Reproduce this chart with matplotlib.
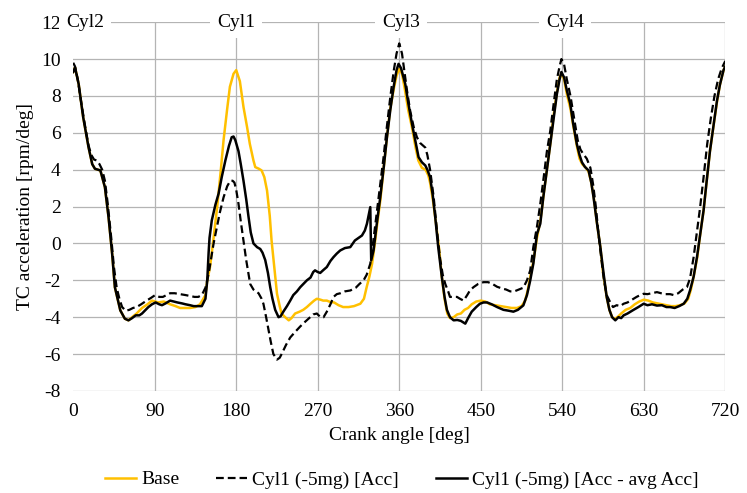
import numpy as np
import matplotlib.pyplot as plt

# Values (crank angle [deg], acceleration [rpm/deg])
base_deg = [0, 2, 6, 11, 17, 21, 24, 30, 35, 39, 43, 46, 52, 57, 61, 65, 70, 76, 82, 87,
            94, 100, 107, 113, 118, 124, 129, 135, 140, 146, 148, 151, 155, 159, 163, 166,
            170, 173, 177, 180, 184, 188, 192, 195, 199, 201, 205, 208, 211, 214, 217, 219,
            222, 225, 228, 230, 234, 238, 241, 245, 250, 254, 258, 262, 266, 269, 273, 276,
            280, 284, 288, 293, 298, 304, 310, 317, 321, 324, 327, 330, 333, 336, 339, 343,
            346, 350, 354, 357, 360, 363, 366, 370, 374, 378, 381, 385, 389, 392, 394, 397,
            400, 404, 407, 410, 413, 416, 420, 424, 428, 432, 436, 440, 445, 450, 455, 460,
            466, 472, 478, 484, 490, 495, 499, 502, 505, 508, 512, 516, 520, 523, 527, 530,
            534, 537, 539, 542, 545, 549, 552, 556, 559, 562, 566, 569, 572, 575, 578, 582,
            585, 589, 592, 595, 598, 602, 605, 610, 615, 620, 625, 630, 635, 640, 645, 650,
            655, 660, 665, 670, 675, 679, 682, 685, 689, 692, 696, 699, 703, 707, 711, 714,
            718, 720]
base_val = [9.3, 9.55, 8.65, 6.85, 5.2, 4.3, 4.05, 3.96, 3.05, 1.43, -0.56, -2.37, -3.63,
            -4.08, -4.17, -4.0, -3.8, -3.5, -3.3, -3.1, -3.2, -3.15, -3.3, -3.4, -3.5, -3.5,
            -3.5, -3.45, -3.3, -2.8, -2.0, -1.3, 0.3, 2.0, 4.0, 5.6, 7.3, 8.5, 9.2, 9.4, 8.8,
            7.4, 6.3, 5.4, 4.5, 4.14, 4.05, 3.96, 3.6, 2.87, 1.5, 0.16, -1.3, -2.73, -3.4,
            -3.8, -4.0, -4.17, -4.05, -3.8, -3.7, -3.6, -3.45, -3.27, -3.1, -3.0, -3.05,
            -3.1, -3.1, -3.18, -3.2, -3.35, -3.45, -3.45, -3.4, -3.27, -3.0, -2.37, -1.8,
            -1.1, 0.0, 1.2, 2.3, 4.2, 5.6, 7.3, 8.4, 9.1, 9.47, 9.2, 8.4, 7.2, 6.3, 5.2, 4.5,
            4.1, 4.0, 3.7, 3.3, 2.4, 1.3, -0.3, -1.82, -3.0, -3.8, -4.05, -4.0, -3.85, -3.8,
            -3.6, -3.5, -3.3, -3.15, -3.1, -3.15, -3.3, -3.35, -3.4, -3.45, -3.5, -3.5, -3.4,
            -3.1, -2.5, -1.7, -1.0, 0.3, 1.3, 2.9, 4.0, 5.5, 6.8, 8.2, 9.0, 9.2, 8.9, 8.1,
            7.3, 6.4, 5.3, 4.6, 4.3, 4.1, 3.9, 3.3, 2.4, 1.2, -0.2, -1.6, -2.9, -3.6, -4.0,
            -4.1, -3.95, -3.8, -3.6, -3.5, -3.3, -3.15, -3.05, -3.1, -3.2, -3.25, -3.3, -3.35,
            -3.4, -3.4, -3.35, -3.25, -3.0, -2.5, -1.8, -0.74, 0.4, 1.8, 3.2, 5.0, 6.4, 7.75,
            8.6, 9.4, 9.6]

acc_deg = [0, 2, 5, 9, 13, 17, 20, 23, 26, 29, 32, 35, 38, 42, 45, 48, 51, 54, 58, 62, 66,
           70, 75, 81, 86, 90.5, 95, 99, 103, 107, 112, 118, 124, 129, 134, 138, 142, 146,
           148, 150, 152, 155, 158.6, 162, 166, 170, 173.4, 176, 178, 180, 182.5, 185, 188,
           191, 195.4, 199, 204.6, 208, 210, 213, 215.7, 218, 221, 225, 228, 230.4, 235,
           239.6, 245, 250.7, 256, 261.7, 265, 269, 273, 276.4, 280, 284, 287.4, 291, 295,
           300, 306, 312, 316, 320.6, 324, 328, 331, 335, 339, 342.7, 346, 350, 354, 357,
           360, 363, 366, 368.5, 372, 376, 379.5, 383, 388.7, 391, 394, 398, 401.6, 405, 408,
           410.8, 414, 416, 420, 423.7, 427, 431, 435, 438, 442, 447, 453, 458, 463, 468,
           474, 478, 482.5, 487, 492, 497, 501, 504.6, 508, 512, 515.7, 520, 523, 526.7,
           530, 534, 537, 539, 542, 545, 549, 553, 557, 560, 563, 567, 571, 574, 577, 580,
           583, 586, 589, 593, 596, 600, 604, 607.7, 612, 617, 622, 626, 629.8, 634, 639,
           644.5, 649, 654, 659, 663, 668, 673, 677.6, 681, 685, 688, 692, 696, 700, 704,
           708, 712, 716, 720]
acc_val = [9.8, 9.6, 8.9, 7.6, 6.4, 5.3, 4.8, 4.55, 4.5, 4.3, 4.0, 3.4, 2.2, 0.3, -1.3,
           -2.4, -3.0, -3.45, -3.65, -3.6, -3.5, -3.45, -3.3, -3.1, -2.95, -2.8, -2.9, -2.9,
           -2.8, -2.7, -2.7, -2.75, -2.8, -2.85, -2.9, -2.9, -2.8, -2.4, -2.0, -1.5, -0.9,
           0.0, 0.88, 1.7, 2.5, 3.1, 3.4, 3.4, 3.3, 2.9, 2.15, 1.2, 0.16, -0.9, -2.2, -2.5,
           -2.7, -3.0, -3.27, -4.0, -4.7, -5.3, -6.0, -6.3, -6.2, -5.97, -5.5, -5.1, -4.8,
           -4.5, -4.25, -4.0, -3.85, -3.8, -4.0, -4.0, -3.7, -3.3, -2.9, -2.75, -2.7, -2.6,
           -2.55, -2.4, -2.2, -2.0, -1.7, -1.1, 0.0, 1.6, 3.2, 4.7, 6.2, 7.9, 9.4, 10.3,
           10.85, 10.3, 9.2, 8.3, 7.2, 6.3, 5.76, 5.45, 5.2, 4.8, 4.0, 2.5, 0.7, -0.8, -1.7,
           -2.2, -2.6, -2.9, -2.9, -2.9, -3.0, -3.1, -2.8, -2.55, -2.37, -2.2, -2.1, -2.1,
           -2.2, -2.35, -2.45, -2.5, -2.6, -2.6, -2.5, -2.4, -2.0, -1.46, -0.2, 0.9, 2.15,
           3.8, 5.0, 6.1, 7.4, 8.9, 9.6, 10.0, 9.7, 8.9, 8.0, 6.8, 5.6, 5.1, 4.86, 4.6, 4.1,
           3.2, 2.0, 0.5, -0.8, -2.0, -2.8, -3.2, -3.45, -3.35, -3.4, -3.27, -3.2, -3.05,
           -2.9, -2.8, -2.73, -2.75, -2.7, -2.64, -2.7, -2.75, -2.75, -2.8, -2.7, -2.5,
           -2.37, -1.9, -0.74, 0.4, 1.9, 3.6, 5.4, 6.8, 8.0, 8.9, 9.5, 9.9]

diff_deg = [0, 2, 6, 11, 17, 21, 24, 30, 35, 39, 43, 46, 52, 57, 61, 65, 69, 73, 76, 80, 83,
            87, 91, 95, 98, 102, 107, 111, 115, 120, 124, 129, 133, 138, 142, 146, 148,
            149.5, 150.5, 153, 157, 160.5, 164, 168, 172, 175, 177, 179, 182.5, 185, 188,
            191, 193.6, 196, 199, 203, 206.5, 209, 212, 215, 217.5, 220, 223, 226.7, 229,
            232, 236, 239.6, 243, 247, 250.7, 254, 258, 262, 265, 267, 270, 272.7, 276, 280,
            284, 287.4, 291, 294.8, 300, 305.9, 311, 315, 318.8, 322, 324.3, 326.5, 328, 329,
            331.6, 335, 339, 343, 346.4, 350, 353.7, 357, 359.2, 362, 366.6, 370, 374, 378,
            381.3, 385, 388.7, 391, 394, 397, 399.7, 403, 407, 410, 412.6, 416, 420, 424, 428,
            432.9, 436, 440, 445, 449, 453, 457, 462, 468, 475, 481, 486, 491, 497, 501,
            504.6, 508, 512, 515.7, 519, 523, 527, 530.4, 534, 537, 539, 542, 545, 548.8, 552,
            556, 559, 561.7, 565, 569, 572, 574.5, 578, 582, 585.5, 589, 592, 595, 598.5, 602,
            605, 607.7, 612, 618.7, 624, 629.8, 634, 639, 644.5, 650, 655, 659, 664, 669, 674,
            678, 681, 685, 688.7, 692, 696, 699, 703, 707, 710.8, 714, 718, 720]
diff_val = [9.3, 9.55, 8.65, 6.85, 5.2, 4.3, 4.05, 3.96, 3.05, 1.43, -0.56, -2.37, -3.63,
            -4.08, -4.17, -4.05, -3.9, -3.9, -3.8, -3.6, -3.45, -3.3, -3.2, -3.3, -3.35,
            -3.25, -3.1, -3.15, -3.2, -3.25, -3.3, -3.35, -3.4, -3.4, -3.4, -3.0, -2.0, -0.5,
            0.3, 1.25, 2.1, 2.7, 3.6, 4.5, 5.3, 5.76, 5.8, 5.6, 5.0, 4.3, 3.4, 2.4, 1.43, 0.6,
            0.0, -0.2, -0.3, -0.5, -0.9, -1.6, -2.37, -3.0, -3.6, -4.0, -3.95, -3.7, -3.4,
            -3.1, -2.8, -2.6, -2.37, -2.2, -2.0, -1.85, -1.55, -1.46, -1.55, -1.6, -1.45,
            -1.28, -0.95, -0.74, -0.55, -0.38, -0.25, -0.2, 0.16, 0.3, 0.43, 0.7, 1.07, 1.6,
            1.97, -0.92, -0.38, 1.0, 2.5, 4.2, 5.76, 7.2, 8.47, 9.4, 9.74, 9.5, 8.65, 7.6,
            6.5, 5.5, 4.68, 4.4, 4.23, 4.0, 3.6, 2.6, 1.43, -0.2, -1.82, -2.9, -3.6, -4.0,
            -4.17, -4.15, -4.2, -4.35, -4.05, -3.7, -3.45, -3.27, -3.2, -3.2, -3.3, -3.45,
            -3.6, -3.65, -3.7, -3.6, -3.36, -2.8, -2.0, -1.1, 0.5, 1.07, 2.5, 4.0, 5.5, 6.8,
            8.1, 8.9, 9.3, 9.0, 8.3, 7.57, 6.5, 5.4, 4.8, 4.4, 4.15, 3.96, 3.3, 2.5, 1.2,
            -0.2, -1.6, -2.9, -3.6, -4.0, -4.17, -4.0, -4.05, -3.9, -3.8, -3.6, -3.45, -3.27,
            -3.35, -3.3, -3.37, -3.35, -3.45, -3.45, -3.5, -3.4, -3.27, -3.0, -2.55, -1.8,
            -0.74, 0.4, 1.8, 3.2, 5.0, 6.4, 7.75, 8.6, 9.4, 9.6]

cyl_labels = ["Cyl2", "Cyl1", "Cyl3", "Cyl4"]
cyl_pos = [13, 180, 362, 543]
x_ticks = list(range(0, 721, 90))
y_ticks = list(range(-8, 13, 2))

plt.rcParams['font.family'] = ['Liberation Serif', 'DejaVu Serif']
plt.rcParams['font.size'] = 14
plt.rcParams['axes.unicode_minus'] = False

fig = plt.figure(figsize=(7.47, 4.93), dpi=100)
ax = fig.add_axes([0.098, 0.207, 0.873, 0.748])

grid_c = '#b4b4b4'
for y in y_ticks:
    ax.axhline(y, color=grid_c, lw=0.9, zorder=0)
for x in x_ticks[1:]:
    ax.axvline(x, color=grid_c, lw=0.9, zorder=0)

ax.plot(base_deg, base_val, color='#FFC000', lw=1.8, label='Base', zorder=2)
ax.plot(acc_deg, acc_val, color='black', lw=1.6, ls=(0, (3.5, 1.8)),
        label='Cyl1 (-5mg) [Acc]', zorder=3)
ax.plot(diff_deg, diff_val, color='black', lw=1.8,
        label='Cyl1 (-5mg) [Acc - avg Acc]', zorder=4)

for lab, pos in zip(cyl_labels, cyl_pos):
    ax.text(pos, 12, lab, ha='center', va='center', fontsize=14,
            bbox=dict(facecolor='white', edgecolor='none', pad=5), zorder=5)

ax.set_xlim(0, 720)
ax.set_ylim(-8, 12)
ax.set_xticks(x_ticks)
ax.set_yticks(y_ticks)
ax.tick_params(length=0, pad=9)
for s in ax.spines.values():
    s.set_visible(False)

ax.set_xlabel('Crank angle [deg]', labelpad=5)
ax.set_ylabel('TC acceleration [rpm/deg]', labelpad=5)

fig.legend(loc='center', bbox_to_anchor=(0.538, 0.027), ncol=3, frameon=False,
           handlelength=1.6, handletextpad=0.25, columnspacing=1.9, fontsize=14)

fig.savefig('out.png', dpi=100)
